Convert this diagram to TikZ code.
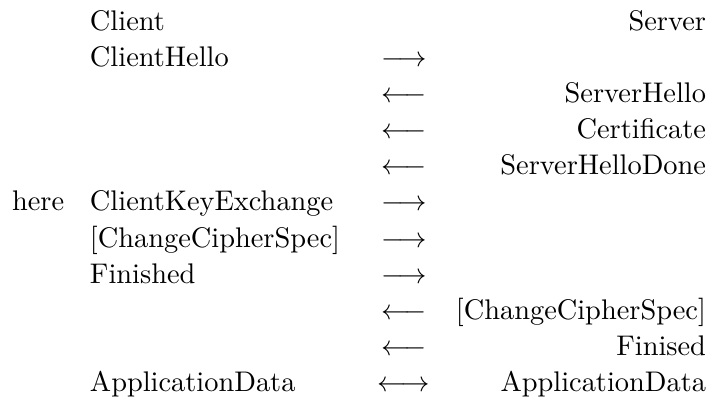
\documentclass[tikz,border=0pt]{standalone}
\begin{document}
\begin{tikzpicture}[x=0.3523pt,y=-0.3523pt,
  lefttxt/.style={anchor=base west,inner sep=0pt,outer sep=0pt},
  righttxt/.style={anchor=base east,inner sep=0pt,outer sep=0pt},
  arrtxt/.style={anchor=base,inner sep=0pt,outer sep=0pt}]
\useasboundingbox (0,0) rectangle (721,399);
\def\rs{36.1}
% left column
\node[lefttxt] (client) at (90,30.5) {Client};
\node[lefttxt] (ch) at (90,30.5+\rs) {ClientHello};
\node[lefttxt] (here) at (12,30.5+5*\rs) {here};
\node[lefttxt] (cke) at (90,30.5+5*\rs) {ClientKeyExchange};
\node[lefttxt] (ccs1) at (90,30.5+6*\rs) {[ChangeCipherSpec]};
\node[lefttxt] (fin1) at (90,30.5+7*\rs) {Finished};
\node[lefttxt] (ad1) at (90,30.5+10*\rs) {ApplicationData};
% arrows
\node[arrtxt] (a1) at (404,30.5+\rs) {$\longrightarrow$};
\node[arrtxt] (a2) at (404,30.5+2*\rs) {$\longleftarrow$};
\node[arrtxt] (a3) at (404,30.5+3*\rs) {$\longleftarrow$};
\node[arrtxt] (a4) at (404,30.5+4*\rs) {$\longleftarrow$};
\node[arrtxt] (a5) at (404,30.5+5*\rs) {$\longrightarrow$};
\node[arrtxt] (a6) at (404,30.5+6*\rs) {$\longrightarrow$};
\node[arrtxt] (a7) at (404,30.5+7*\rs) {$\longrightarrow$};
\node[arrtxt] (a8) at (404,30.5+8*\rs) {$\longleftarrow$};
\node[arrtxt] (a9) at (404,30.5+9*\rs) {$\longleftarrow$};
\node[arrtxt] (a10) at (404,30.5+10*\rs) {$\longleftrightarrow$};
% right column
\node[righttxt] (server) at (706,30.5) {Server};
\node[righttxt] (sh) at (706,30.5+2*\rs) {ServerHello};
\node[righttxt] (cert) at (706,30.5+3*\rs) {Certificate};
\node[righttxt] (shd) at (706,30.5+4*\rs) {ServerHelloDone};
\node[righttxt] (ccs2) at (706,30.5+8*\rs) {[ChangeCipherSpec]};
\node[righttxt] (fin2) at (706,30.5+9*\rs) {Finised};
\node[righttxt] (ad2) at (706,30.5+10*\rs) {ApplicationData};
\end{tikzpicture}
\end{document}
